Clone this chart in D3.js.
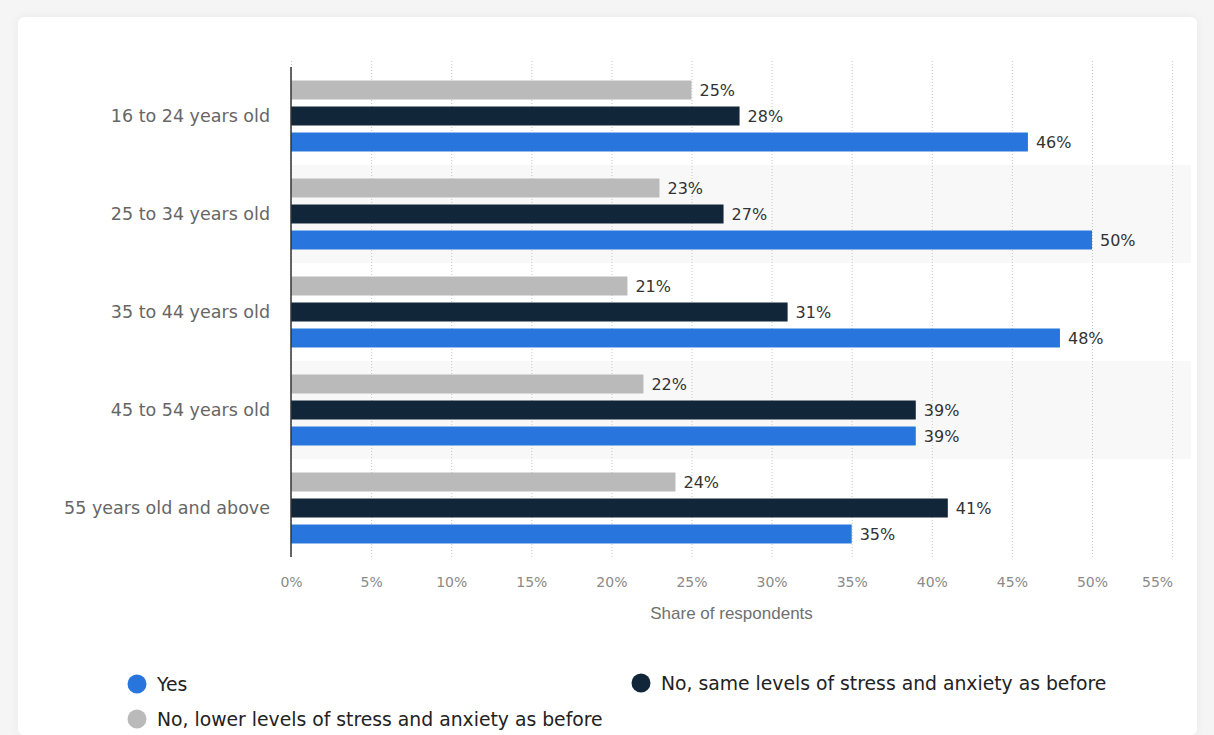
<!DOCTYPE html>
<html>
<head>
    <title>Stress and anxiety by age</title>
    <script src="https://cdn.jsdelivr.net/npm/d3@7/dist/d3.min.js"></script>
    <style>
        body { margin: 0; background: #f5f5f5; }
        svg { display: block; font-family: 'DejaVu Sans', Verdana, sans-serif; }
    </style>
</head>
<body>
    <svg width="1214" height="735" id="mainsvg"></svg>
    <script>
        // data
        const ageGroups = ['16 to 24 years old', '25 to 34 years old', '35 to 44 years old', '45 to 54 years old', '55 years old and above'];
        const seriesNames = ['No, lower levels of stress and anxiety as before', 'No, same levels of stress and anxiety as before', 'Yes'];
        const lowerValues = [25, 23, 21, 22, 24];
        const sameValues = [28, 27, 31, 39, 41];
        const yesValues = [46, 50, 48, 39, 35];
        const xTicks = [0, 5, 10, 15, 20, 25, 30, 35, 40, 45, 50, 55];
        const legendOrder = ['Yes', 'No, same levels of stress and anxiety as before', 'No, lower levels of stress and anxiety as before'];

        const seriesValues = [lowerValues, sameValues, yesValues];
        const colors = ['#bababa', '#12263a', '#2876dd'];

        const svg = d3.select('#mainsvg');
        const width = +svg.attr('width');
        const height = +svg.attr('height');
        const margin = { top: 67, right: 42, bottom: 178, left: 291 };
        const innerWidth = width - margin.left - margin.right;
        const innerHeight = height - margin.top - margin.bottom;

        // white card
        svg.append('rect')
            .attr('x', 18).attr('y', 17)
            .attr('width', 1179).attr('height', height - 17)
            .attr('rx', 6)
            .attr('fill', '#ffffff')
            .style('filter', 'drop-shadow(0px 0px 4px rgba(0,0,0,0.05))');

        const g = svg.append('g').attr('id', 'maingroup')
            .attr('transform', `translate(${margin.left}, ${margin.top})`);

        const xScale = d3.scaleLinear().domain([0, 55]).range([0, 55 * 16.02]);
        const yScale = d3.scaleBand().domain(ageGroups).range([0, innerHeight]);
        const ySub = d3.scaleBand().domain(d3.range(3)).range([0, yScale.bandwidth()])
            .paddingInner(0.27).paddingOuter(0.52);

        // alternating row bands
        g.selectAll('.band').data(ageGroups.filter((d, i) => i % 2 === 1)).join('rect')
            .attr('class', 'band')
            .attr('x', 0)
            .attr('y', d => yScale(d))
            .attr('width', 900)
            .attr('height', yScale.bandwidth())
            .attr('fill', '#f8f8f8');

        // grid + tick labels
        const xAxis = d3.axisBottom(xScale)
            .tickValues(xTicks)
            .tickFormat(d => d + '%')
            .tickSize(-(innerHeight + 8))
            .tickPadding(20);
        const xAxisGroup = g.append('g').call(xAxis)
            .attr('transform', `translate(0, ${innerHeight})`);
        xAxisGroup.selectAll('.domain').remove();
        xAxisGroup.selectAll('.tick line')
            .attr('stroke', '#c8c8c8')
            .attr('stroke-dasharray', '1,2')
            .attr('y1', 0);
        xAxisGroup.selectAll('.tick text')
            .attr('fill', '#8a8a8a')
            .attr('font-size', '14px')
            .attr('font-family', "'DejaVu Sans', sans-serif");
        // last label is pulled in so it stays inside the card
        xAxisGroup.selectAll('.tick text').filter(d => d === 55).attr('dx', -15);
        xAxisGroup.append('text')
            .attr('x', (xScale(0) + xScale(55)) / 2)
            .attr('y', 62)
            .attr('fill', '#707070')
            .attr('font-size', '17px')
            .attr('text-anchor', 'middle')
            .text('Share of respondents');

        // bars
        const groups = g.selectAll('.agegroup').data(ageGroups).join('g')
            .attr('class', 'agegroup')
            .attr('transform', d => `translate(0, ${yScale(d)})`);

        groups.selectAll('.datarect').data((d, i) => seriesValues.map((vals, s) => ({ s, v: vals[i] }))).join('rect')
            .attr('class', 'datarect')
            .attr('x', 0)
            .attr('y', d => ySub(d.s))
            .attr('width', d => xScale(d.v))
            .attr('height', ySub.bandwidth())
            .attr('fill', d => colors[d.s]);

        groups.selectAll('.valuelabel').data((d, i) => seriesValues.map((vals, s) => ({ s, v: vals[i] }))).join('text')
            .attr('class', 'valuelabel')
            .attr('x', d => xScale(d.v) + 8)
            .attr('y', d => ySub(d.s) + ySub.bandwidth() / 2)
            .attr('dy', '0.36em')
            .attr('fill', '#333333')
            .attr('font-size', '16px')
            .text(d => d.v + '%');

        // y axis line and labels
        g.append('line')
            .attr('x1', 0).attr('x2', 0)
            .attr('y1', 0).attr('y2', innerHeight)
            .attr('stroke', '#333333')
            .attr('stroke-width', 1.5);
        groups.append('text')
            .attr('x', -21)
            .attr('y', ySub(1) + ySub.bandwidth() / 2)
            .attr('dy', '0.36em')
            .attr('text-anchor', 'end')
            .attr('fill', '#666666')
            .attr('font-size', '17.5px')
            .text(d => d);

        // legend
        const legendPos = [[137, 684], [641, 683], [137, 719]];
        const lg = svg.append('g').attr('id', 'legend');
        const items = lg.selectAll('.legenditem').data(legendOrder).join('g')
            .attr('class', 'legenditem')
            .attr('transform', (d, i) => `translate(${legendPos[i][0]}, ${legendPos[i][1]})`);
        items.append('circle')
            .attr('r', 9.5)
            .attr('fill', d => colors[seriesNames.indexOf(d)]);
        items.append('text')
            .attr('x', 20)
            .attr('dy', '0.36em')
            .attr('fill', '#222222')
            .attr('font-size', '18.8px')
            .text(d => d);
    </script>
</body>
</html>
